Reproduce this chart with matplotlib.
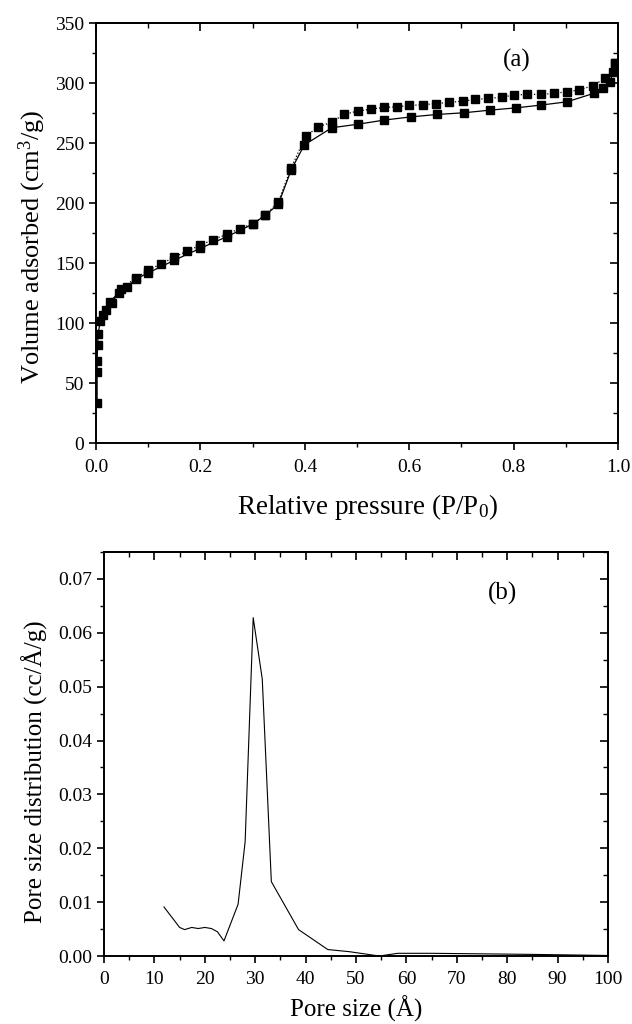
import matplotlib
matplotlib.use("Agg")
import matplotlib.pyplot as plt
from matplotlib.ticker import MultipleLocator, FormatStrFormatter

plt.rcParams['font.family'] = ['Liberation Serif', 'DejaVu Serif']
plt.rcParams['mathtext.fontset'] = 'custom'
plt.rcParams['mathtext.rm'] = 'Liberation Serif'
plt.rcParams['mathtext.it'] = 'Liberation Serif:italic'

# (a) N2 isotherm, adsorption branch
ads_p = [0.002, 0.002, 0.002, 0.003, 0.004, 0.008, 0.014, 0.019, 0.026, 0.043,
         0.059, 0.077, 0.100, 0.150, 0.200, 0.250, 0.300, 0.324, 0.349, 0.374,
         0.399, 0.4515, 0.5025, 0.552, 0.604, 0.654, 0.705, 0.755, 0.805, 0.8525,
         0.902, 0.953, 0.972, 0.985, 0.995]
ads_v = [33.6, 59.4, 69.0, 82.0, 91.0, 102.0, 106.7, 111.4, 117.8, 125.3,
         130.3, 137.0, 142.0, 152.5, 162.5, 172.0, 182.5, 190.0, 199.0, 228.0,
         248.5, 262.8, 265.8, 269.2, 271.9, 273.9, 275.3, 277.5, 279.4, 281.7,
         284.4, 291.4, 295.6, 301.0, 317.0]

# desorption branch
des_p = [0.995, 0.991, 0.975, 0.951, 0.925, 0.902, 0.878, 0.8525, 0.825, 0.801,
         0.777, 0.7515, 0.726, 0.7025, 0.677, 0.651, 0.627, 0.600, 0.576, 0.551,
         0.527, 0.501, 0.475, 0.4515, 0.426, 0.4017, 0.3736, 0.349, 0.324, 0.301,
         0.275, 0.250, 0.224, 0.200, 0.175, 0.150, 0.125, 0.100, 0.077, 0.048, 0.030]
des_v = [317.0, 309.4, 303.9, 297.8, 294.2, 292.8, 291.4, 290.6, 290.6, 290.0,
         288.3, 287.2, 286.4, 285.0, 283.9, 283.0, 281.9, 281.4, 280.3, 279.7,
         278.3, 276.7, 273.9, 267.5, 263.6, 255.8, 229.4, 201.0, 190.0, 183.0,
         178.9, 174.0, 169.7, 165.0, 160.3, 155.0, 149.7, 144.0, 138.0, 128.9, 117.0]

# (b) pore size distribution
pore_d = [11.9, 15.0, 16.0, 17.4, 18.7, 20.0, 21.3, 22.5, 23.8, 26.6, 28.0,
          29.6, 31.4, 33.2, 38.6, 44.4, 48.7, 54.6, 58.3, 65.0, 75.0, 85.0, 100.0]
pore_psd = [0.0091, 0.0053, 0.0049, 0.0053, 0.0051, 0.0053, 0.0051, 0.0045, 0.0028,
            0.0096, 0.0212, 0.0628, 0.0514, 0.0138, 0.0049, 0.0012, 0.0008, 0.0,
            0.0005, 0.0005, 0.0004, 0.0003, 0.0001]


def style_axes(ax, xmaj, xmin, ymaj, ymin):
    for s in ax.spines.values():
        s.set_linewidth(1.4)
    ax.xaxis.set_major_locator(MultipleLocator(xmaj))
    ax.xaxis.set_minor_locator(MultipleLocator(xmin))
    ax.yaxis.set_major_locator(MultipleLocator(ymaj))
    ax.yaxis.set_minor_locator(MultipleLocator(ymin))
    ax.tick_params(which='major', direction='out', length=5, width=1.2, labelsize=14)
    ax.tick_params(which='minor', direction='out', length=3, width=1.0)
    ax.tick_params(axis='x', which='major', pad=6)
    # mirrored ticks pointing inward on top and right
    top = ax.secondary_xaxis('top')
    right = ax.secondary_yaxis('right')
    for sec, axis in ((top, top.xaxis), (right, right.yaxis)):
        axis.set_major_locator(MultipleLocator(xmaj if sec is top else ymaj))
        axis.set_minor_locator(MultipleLocator(xmin if sec is top else ymin))
        sec.tick_params(which='major', direction='in', length=6, width=1.2, labelsize=0)
        sec.tick_params(which='minor', direction='in', length=3.5, width=1.0)
        axis.set_ticklabels([])
        for s in sec.spines.values():
            s.set_linewidth(1.4)


fig = plt.figure(figsize=(6.32, 10.24), dpi=100)
ax1 = fig.add_axes([0.152, 0.567, 0.826, 0.4105])
ax2 = fig.add_axes([0.1646, 0.0664, 0.7974, 0.3946])

ax1.plot(ads_p, ads_v, '-', color='black', lw=0.9, marker='s', ms=6.4, mfc='black', mec='black')
ax1.plot(des_p, des_v, ':', color='black', lw=0.9, marker='s', ms=6.4, mfc='black', mec='black')
ax1.set_xlim(0, 1.0)
ax1.set_ylim(0, 350)
style_axes(ax1, 0.2, 0.1, 50, 25)
ax1.xaxis.set_major_formatter(FormatStrFormatter('%.1f'))
ax1.set_xlabel('Relative pressure (P/P$_0$)', fontsize=19.5)
ax1.set_ylabel('Volume adsorbed (cm$^3$/g)', fontsize=19)
ax1.xaxis.set_label_coords(0.521, -0.115)
ax1.yaxis.set_label_coords(-0.092, 0.467)
ax1.text(0.806, 0.912, '(a)', transform=ax1.transAxes, fontsize=18, ha='center', va='center')

ax2.plot(pore_d, pore_psd, '-', color='black', lw=0.8)
ax2.set_xlim(0, 100)
ax2.set_ylim(0, 0.075)
style_axes(ax2, 10, 5, 0.01, 0.005)
ax2.yaxis.set_major_formatter(FormatStrFormatter('%.2f'))
ax2.set_xlabel('Pore size (\u00c5)', fontsize=18)
ax2.set_ylabel('Pore size distribution (cc/\u00c5/g)', fontsize=18)
ax2.xaxis.set_label_coords(0.5, -0.098)
ax2.yaxis.set_label_coords(-0.111, 0.455)
ax2.text(0.79, 0.898, '(b)', transform=ax2.transAxes, fontsize=18, ha='center', va='center')

fig.savefig('out.png', dpi=100, facecolor='white')
